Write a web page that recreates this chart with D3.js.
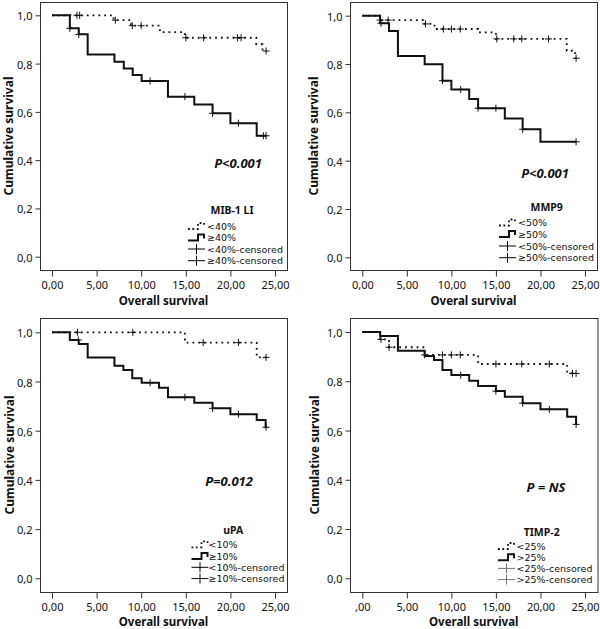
<!DOCTYPE html>
<html><head><meta charset="utf-8">
<script src="https://cdn.jsdelivr.net/npm/d3@7"></script>
<style>body{margin:0;background:#fff}svg{display:block}</style>
</head><body>
<svg id="c" width="600" height="629"></svg>
<script>
// ---------- DATA ----------
const xTicks = [0, 5, 10, 15, 20, 25];
const xTickLabelsA = ["0,00", "5,00", "10,00", "15,00", "20,00", "25,00"];
const xTickLabelsB = [",00", "5,00", "10,00", "15,00", "20,00", "25,00"];
const yTicks = [0, 0.2, 0.4, 0.6, 0.8, 1.0];
const yTickLabels = ["0,0", "0,2", "0,4", "0,6", "0,8", "1,0"];
const yTitle = "Cumulative survival";
const xTitles = ["Overall survival", "Overal survival", "Overall survival", "Overall survival"];
const pValues = ["P<0.001", "P<0.001", "P=0.012", "P = NS"];
const legendTitles = ["MIB-1 LI", "MMP9", "uPA", "TIMP-2"];
const legendItems1 = ["<40%", "≥40%", "<40%-censored", "≥40%-censored"];
const legendItems2 = ["<50%", "≥50%", "<50%-censored", "≥50%-censored"];
const legendItems3 = ["<10%", "≥10%", "<10%-censored", "≥10%-censored"];
const legendItems4 = ["<25%", ">25%", "<25%-censored", ">25%-censored"];

// step curves: [time, survival after drop]; censor times
const p1Low = [[0,1],[6.9,0.98],[8.85,0.957],[12.1,0.93],[14.9,0.907],[22.9,0.88],[23.6,0.852]];
const p1LowCens = [2.8,3.1,7.1,9.0,10.0,15.0,17.0,20.8,21.2,24.0];
const p1High = [[0,1],[2.0,0.946],[3.0,0.921],[4.0,0.838],[7.0,0.808],[8.05,0.78],[9.05,0.753],[10.05,0.728],[13.0,0.663],[15.95,0.631],[18.0,0.594],[20.0,0.553],[22.95,0.501]];
const p1HighCens = [2.0,3.0,11.0,14.9,18.0,20.9,23.7,24.0];

const p2Low = [[0,1],[2.0,0.982],[6.85,0.966],[8.1,0.945],[13.0,0.931],[15.0,0.904],[22.95,0.855],[23.9,0.824]];
const p2LowCens = [2.0,2.9,7.1,9.1,10.0,11.0,15.1,17.0,17.9,20.9,24.0];
const p2High = [[0,1],[2.0,0.969],[3.0,0.937],[4.0,0.833],[7.0,0.799],[9.0,0.731],[10.0,0.695],[12.0,0.655],[13.0,0.617],[16.0,0.575],[18.0,0.53],[20.0,0.478]];
const p2HighCens = [2.1,9.0,11.05,13.0,15.0,18.0,24.0];

const p3Low = [[0,1],[14.9,0.958],[22.95,0.898]];
const p3LowCens = [2.85,9.05,16.95,20.9,24.0];
const p3High = [[0,1],[2.0,0.969],[3.0,0.952],[4.0,0.898],[7.0,0.864],[8.0,0.847],[9.0,0.813],[10.05,0.795],[12.0,0.775],[13.0,0.736],[15.95,0.714],[18.0,0.691],[20.0,0.667],[22.95,0.644],[23.95,0.614]];
const p3HighCens = [2.95,11.0,14.9,18.0,20.9,24.0];

const p4Low = [[0,1],[2.0,0.97],[3.0,0.938],[7.0,0.907],[13.0,0.87],[23.0,0.832]];
const p4LowCens = [2.1,3.0,7.0,9.0,10.0,11.0,15.0,17.9,21.0,23.6,24.0];
const p4High = [[0,1],[2.0,0.984],[4.0,0.924],[7.0,0.903],[8.05,0.886],[9.0,0.846],[10.0,0.825],[12.0,0.802],[13.0,0.781],[15.0,0.76],[16.0,0.737],[18.0,0.711],[20.0,0.686],[23.0,0.656],[24.0,0.625]];
const p4HighCens = [11.05,15.0,18.0,21.0,24.0];

const endTime = 24.0;

// ---------- LAYOUT ----------
const panels = [
  {low:p1Low, lowC:p1LowCens, high:p1High, highC:p1HighCens, items:legendItems1, tl:xTickLabelsA,
   x0:52, x1:275, yb:256.7, yt:15.3, box:[40,2,287,270], yTitleX:8, tickLabY:283.5, xTitleY:300,
   p:[238,162.7], lt:[232,210], ly:[226,237.5,249,260.7], symX:188, txtX:207, censColor:"#000"},
  {low:p2Low, lowC:p2LowCens, high:p2High, highC:p2HighCens, items:legendItems2, tl:xTickLabelsA,
   x0:362.3, x1:585, yb:257.3, yt:15.7, box:[350,2,597,270], yTitleX:313, tickLabY:283.5, xTitleY:300,
   p:[545,173.3], lt:[546.7,206.7], ly:[222.5,234,246,257.7], symX:499, txtX:518, censColor:"#000"},
  {low:p3Low, lowC:p3LowCens, high:p3High, highC:p3HighCens, items:legendItems3, tl:xTickLabelsA,
   x0:52, x1:275, yb:578.3, yt:332.3, box:[40,318,287,592], yTitleX:9, tickLabY:605.5, xTitleY:621.5,
   p:[229,480.7], lt:[233.3,530], ly:[544.3,556,567.3,578.6], symX:191.5, txtX:208.5, censColor:"#000"},
  {low:p4Low, lowC:p4LowCens, high:p4High, highC:p4HighCens, items:legendItems4, tl:xTickLabelsB,
   x0:362.3, x1:585, yb:578.3, yt:332, box:[350,318,597.5,592], yTitleX:314, tickLabY:605.5, xTitleY:621.5,
   p:[546,487.3], lt:[541.7,531.7], ly:[546,557.2,568.4,579.6], symX:498, txtX:516.5, censColor:"#777"}
];

const FONT = "'Noto Sans', 'DejaVu Sans', sans-serif";
const LFONT = "'DejaVu Sans', sans-serif";
const svg = d3.select("#c");

function survAt(steps, t){
  let s = steps[0][1];
  for (const d of steps) if (d[0] <= t + 1e-9) s = d[1];
  return s;
}

panels.forEach((P, i) => {
  const g = svg.append("g");
  const x = d3.scaleLinear().domain([0,25]).range([P.x0, P.x1]);
  const y = d3.scaleLinear().domain([0,1]).range([P.yb, P.yt]);
  const [bl, bt, br, bb] = P.box;

  // box
  g.append("rect").attr("x", bl+0.5).attr("y", bt+0.5).attr("width", br-bl).attr("height", bb-bt)
    .attr("fill", "none").attr("stroke", "#333").attr("stroke-width", 1);

  // x axis
  const xa = g.append("g").attr("transform", `translate(0,${bb+0.5})`)
    .call(d3.axisBottom(x).tickValues(xTicks).tickSize(6).tickFormat((d,k)=>P.tl[k]));
  xa.select(".domain").remove();
  xa.selectAll("line").attr("stroke", "#333");
  xa.selectAll("text").attr("font-family", FONT).attr("font-size", 11).attr("fill", "#111")
    .attr("dy", null).attr("y", P.tickLabY - bb).attr("dominant-baseline", "central");

  // y axis
  const ya = g.append("g").attr("transform", `translate(${bl+0.5},0)`)
    .call(d3.axisLeft(y).tickValues(yTicks).tickSize(5).tickFormat((d,k)=>yTickLabels[k]));
  ya.select(".domain").remove();
  ya.selectAll("line").attr("stroke", "#333");
  ya.selectAll("text").attr("font-family", FONT).attr("font-size", 11).attr("fill", "#111")
    .attr("x", -8).attr("dy", null).attr("dominant-baseline", "central");

  // titles
  g.append("text").attr("x", (bl+br)/2).attr("y", P.xTitleY).attr("text-anchor", "middle")
    .attr("dominant-baseline", "central").attr("font-family", FONT).attr("font-weight", "bold")
    .attr("font-size", 11.5).attr("fill", "#111").text(xTitles[i]);
  g.append("text").attr("transform", `translate(${P.yTitleX},${(bt+bb)/2})rotate(-90)`)
    .attr("text-anchor", "middle").attr("dominant-baseline", "central").attr("font-family", FONT)
    .attr("font-weight", "bold").attr("font-size", 12).attr("fill", "#111").text(yTitle);

  // curves
  const line = d3.line().x(d=>x(d[0])).y(d=>y(d[1])).curve(d3.curveStepAfter);
  const lowPts = P.low.concat([[endTime, P.low[P.low.length-1][1]]]);
  const highPts = P.high.concat([[endTime, P.high[P.high.length-1][1]]]);
  g.append("path").attr("d", line(highPts)).attr("fill", "none").attr("stroke", "#111")
    .attr("stroke-width", 2);
  g.append("path").attr("d", line(lowPts)).attr("fill", "none").attr("stroke", "#111")
    .attr("stroke-width", 1.8).attr("stroke-dasharray", "1.8,4");

  // censor marks
  const cens = (times, steps) => times.forEach(t => {
    const cx = x(t), cy = y(survAt(steps, t));
    g.append("path").attr("d", `M${cx-3.5},${cy}H${cx+3.5}M${cx},${cy-3.5}V${cy+3.5}`)
      .attr("stroke", "#111").attr("stroke-width", 1).attr("fill", "none");
  });
  cens(P.lowC, P.low);
  cens(P.highC, P.high);

  // P value
  g.append("text").attr("x", P.p[0]).attr("y", P.p[1]).attr("text-anchor", "middle")
    .attr("dominant-baseline", "central").attr("font-family", FONT).attr("font-weight", "bold")
    .attr("font-style", "italic").attr("font-size", 13).attr("fill", "#111").text(pValues[i]);

  // legend
  g.append("text").attr("x", P.lt[0]).attr("y", P.lt[1]).attr("text-anchor", "middle")
    .attr("dominant-baseline", "central").attr("font-family", FONT).attr("font-weight", "bold")
    .attr("font-size", 10.5).attr("fill", "#111").text(legendTitles[i]);
  P.items.forEach((lab, k) => {
    const ly = P.ly[k], sx = P.symX;
    if (k === 0) {
      g.append("path").attr("d", `M${sx},${ly+3}H${sx+10}V${ly-3}H${sx+16}V${ly+1}`)
        .attr("fill","none").attr("stroke","#111").attr("stroke-width",1.8).attr("stroke-dasharray","1.8,2.6");
    } else if (k === 1) {
      g.append("path").attr("d", `M${sx},${ly+3}H${sx+10}V${ly-3}H${sx+16}V${ly+1}`)
        .attr("fill","none").attr("stroke","#111").attr("stroke-width",2);
    } else {
      g.append("path").attr("d", `M${sx},${ly}H${sx+17}M${sx+8.5},${ly-5}V${ly+5}`)
        .attr("fill","none").attr("stroke",P.censColor).attr("stroke-width",1);
    }
    g.append("text").attr("x", P.txtX).attr("y", ly).attr("dominant-baseline", "central")
      .attr("font-family", LFONT).attr("font-size", 9.5).attr("fill", "#111").text(lab);
  });
});
</script>
</body></html>
